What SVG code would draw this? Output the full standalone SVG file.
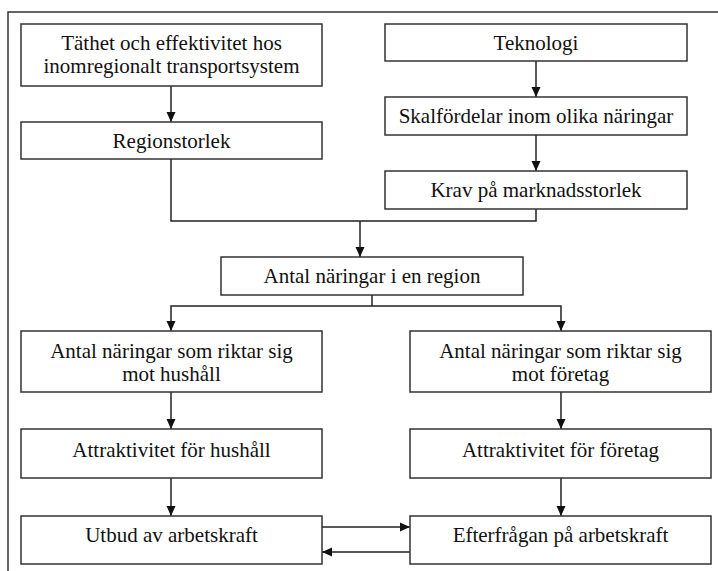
<svg xmlns="http://www.w3.org/2000/svg" width="718" height="571" viewBox="0 0 718 571">
<defs>
<marker id="ah" markerUnits="userSpaceOnUse" markerWidth="10" markerHeight="10" refX="10" refY="5" orient="auto">
<path d="M0,0.5 L10,5 L0,9.5 z" fill="#111"/>
</marker>
<style>
.box{fill:#fff;stroke:#333;stroke-width:1.5}
.t{font-family:"Liberation Serif","Times New Roman",serif;font-size:21px;fill:#111;text-anchor:middle}
.c{fill:none;stroke:#222;stroke-width:1.5}
.a{fill:none;stroke:#222;stroke-width:1.5;marker-end:url(#ah)}
</style>
</defs>
<rect width="718" height="571" fill="#fff"/>
<path d="M8,571 L8,12 L718,12" fill="none" stroke="#333" stroke-width="1.5"/>
<g id="connectors">
<path class="a" d="M171,86 V122"/>
<path class="a" d="M536,61 V97"/>
<path class="a" d="M536,135 V171"/>
<path class="c" d="M171,159 V221 H536 V209"/>
<path class="a" d="M360,221 V257"/>
<path class="c" d="M372,295 V306"/>
<path class="a" d="M372,306 H171 V331"/>
<path class="a" d="M372,306 H561 V331"/>
<path class="a" d="M171,392 V429"/>
<path class="a" d="M171,478 V516"/>
<path class="a" d="M561,392 V429"/>
<path class="a" d="M561,478 V516"/>
<path class="a" d="M322,527 H410"/>
<path class="a" d="M410,552 H322"/>
</g>
<g id="tathet">
<rect class="box" x="21" y="24" width="301" height="62"/>
<text class="t" x="171.5" y="50">Täthet och effektivitet hos</text>
<text class="t" x="171.5" y="73">inomregionalt transportsystem</text>
</g>
<g id="regionstorlek">
<rect class="box" x="21" y="122" width="301" height="37"/>
<text class="t" x="171.5" y="148">Regionstorlek</text>
</g>
<g id="teknologi">
<rect class="box" x="385" y="24" width="302" height="37"/>
<text class="t" x="536" y="50">Teknologi</text>
</g>
<g id="skalfordelar">
<rect class="box" x="385" y="97" width="302" height="38"/>
<text class="t" x="536" y="123">Skalfördelar inom olika näringar</text>
</g>
<g id="krav">
<rect class="box" x="385" y="171" width="302" height="38"/>
<text class="t" x="536" y="197">Krav på marknadsstorlek</text>
</g>
<g id="antal">
<rect class="box" x="221" y="257" width="302" height="38"/>
<text class="t" x="372" y="283">Antal näringar i en region</text>
</g>
<g id="antal-hushall">
<rect class="box" x="21" y="331" width="301" height="61"/>
<text class="t" x="171.5" y="358">Antal näringar som riktar sig</text>
<text class="t" x="171.5" y="381">mot hushåll</text>
</g>
<g id="antal-foretag">
<rect class="box" x="410" y="331" width="301" height="61"/>
<text class="t" x="560.5" y="358">Antal näringar som riktar sig</text>
<text class="t" x="560.5" y="381">mot företag</text>
</g>
<g id="attr-hushall">
<rect class="box" x="21" y="429" width="301" height="49"/>
<text class="t" x="171.5" y="457">Attraktivitet för hushåll</text>
</g>
<g id="attr-foretag">
<rect class="box" x="410" y="429" width="301" height="49"/>
<text class="t" x="560.5" y="457">Attraktivitet för företag</text>
</g>
<g id="utbud">
<rect class="box" x="21" y="516" width="301" height="48"/>
<text class="t" x="171.5" y="542">Utbud av arbetskraft</text>
</g>
<g id="efterfragan">
<rect class="box" x="410" y="516" width="301" height="48"/>
<text class="t" x="560.5" y="542">Efterfrågan på arbetskraft</text>
</g>
</svg>
